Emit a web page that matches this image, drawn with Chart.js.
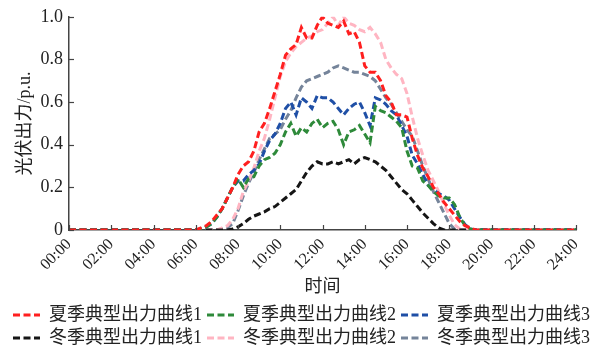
<!DOCTYPE html>
<html lang="zh">
<head>
<meta charset="UTF-8" />
<title>光伏出力曲线</title>
<script src="https://cdn.jsdelivr.net/npm/chart.js"></script>
<style>
  html, body { margin: 0; padding: 0; background: #fff; overflow: hidden; }
  #wrap { width: 603px; height: 347px; overflow: hidden; }
</style>
</head>
<body>
<div id="wrap"><canvas id="pv" width="603" height="357"></canvas></div>
<script>
// time of day in hours (00:00, then 06:00..20:00 every 15 min, then 24:00)
const hours = [0,
  6, 6.25, 6.5, 6.75,
  7, 7.25, 7.5, 7.75,
  8, 8.25, 8.5, 8.75,
  9, 9.25, 9.5, 9.75,
  10, 10.25, 10.5, 10.75,
  11, 11.25, 11.5, 11.75,
  12, 12.25, 12.5, 12.75,
  13, 13.25, 13.5, 13.75,
  14, 14.25, 14.5, 14.75,
  15, 15.25, 15.5, 15.75,
  16, 16.25, 16.5, 16.75,
  17, 17.25, 17.5, 17.75,
  18, 18.25, 18.5, 18.75,
  19, 19.25, 19.5, 19.75,
  20,
  24];

const summer1 = [0,
  0, 0.01, 0.02, 0.04,
  0.07, 0.1, 0.15, 0.2,
  0.26, 0.3, 0.32, 0.37,
  0.46, 0.5, 0.57, 0.65,
  0.73, 0.82, 0.85, 0.87,
  0.95, 0.9, 0.9, 0.96,
  1.0, 0.97, 0.96, 0.95,
  0.98, 0.92, 0.93, 0.88,
  0.77, 0.74, 0.74, 0.7,
  0.63, 0.6, 0.54, 0.54,
  0.53, 0.43, 0.35, 0.29,
  0.25, 0.2, 0.17, 0.13,
  0.1, 0.07, 0.04, 0.02,
  0.01, 0, 0, 0,
  0,
  0];

const summer2 = [0,
  0, 0.005, 0.015, 0.03,
  0.06, 0.1, 0.15, 0.2,
  0.24, 0.2, 0.24, 0.25,
  0.3, 0.33, 0.34, 0.36,
  0.4, 0.46, 0.5, 0.44,
  0.48, 0.46, 0.5, 0.52,
  0.48, 0.5, 0.51, 0.47,
  0.4, 0.46, 0.47, 0.49,
  0.45, 0.41, 0.58, 0.56,
  0.55, 0.53, 0.51, 0.48,
  0.37, 0.3, 0.29, 0.23,
  0.21, 0.18, 0.16, 0.15,
  0.15, 0.12, 0.06, 0.02,
  0.005, 0, 0, 0,
  0,
  0];

const summer3 = [0,
  0, 0.005, 0.015, 0.03,
  0.06, 0.1, 0.15, 0.2,
  0.23, 0.23, 0.26, 0.28,
  0.31, 0.37, 0.42, 0.45,
  0.5, 0.57, 0.6, 0.54,
  0.62, 0.6, 0.57, 0.63,
  0.62, 0.62, 0.6, 0.57,
  0.54, 0.57, 0.59, 0.6,
  0.55, 0.49, 0.62, 0.61,
  0.59, 0.56, 0.54, 0.49,
  0.44, 0.35, 0.31, 0.26,
  0.21, 0.19, 0.17, 0.16,
  0.14, 0.1, 0.06, 0.025,
  0.005, 0, 0, 0,
  0,
  0];

const winter1 = [0,
  0, 0, 0, 0,
  0, 0, 0, 0.005,
  0.015, 0.03, 0.05, 0.065,
  0.075, 0.085, 0.1, 0.11,
  0.13, 0.15, 0.17, 0.19,
  0.23, 0.27, 0.3, 0.32,
  0.31, 0.31, 0.32, 0.31,
  0.32, 0.33, 0.31, 0.33,
  0.34, 0.33, 0.32, 0.3,
  0.28, 0.25, 0.22, 0.19,
  0.17, 0.14, 0.11, 0.08,
  0.055, 0.03, 0.01, 0,
  0, 0, 0, 0,
  0, 0, 0, 0,
  0,
  0];

const winter2 = [0,
  0, 0, 0, 0,
  0, 0.01, 0.02, 0.05,
  0.1, 0.18, 0.23, 0.29,
  0.37, 0.43, 0.52, 0.62,
  0.72, 0.79, 0.83, 0.86,
  0.88, 0.9, 0.91, 0.93,
  0.94, 0.97, 1.0, 0.96,
  1.0, 0.97, 0.96, 0.94,
  0.93, 0.95, 0.92, 0.88,
  0.8, 0.76, 0.73, 0.71,
  0.64, 0.53, 0.43, 0.35,
  0.28, 0.23, 0.18, 0.12,
  0.07, 0.025, 0.005, 0,
  0, 0, 0, 0,
  0,
  0];

const winter3 = [0,
  0, 0, 0, 0,
  0, 0.005, 0.01, 0.03,
  0.09, 0.16, 0.22, 0.27,
  0.33, 0.38, 0.43, 0.45,
  0.47, 0.52, 0.56, 0.62,
  0.67, 0.7, 0.71, 0.72,
  0.73, 0.74, 0.76, 0.77,
  0.76, 0.75, 0.74, 0.74,
  0.73, 0.72, 0.7, 0.66,
  0.62, 0.59, 0.55, 0.51,
  0.47, 0.44, 0.37, 0.3,
  0.24, 0.18, 0.13, 0.08,
  0.03, 0.005, 0, 0,
  0, 0, 0, 0,
  0,
  0];

const seriesNames = ['夏季典型出力曲线1', '夏季典型出力曲线2', '夏季典型出力曲线3',
                     '冬季典型出力曲线1', '冬季典型出力曲线2', '冬季典型出力曲线3'];
const seriesColors = ['#ff1f1f', '#2e8a3a', '#1f4fa6', '#151515', '#ffb5c2', '#75849a'];
const seriesValues = [summer1, summer2, summer3, winter1, winter2, winter3];

const hourTicks = ['00:00', '02:00', '04:00', '06:00', '08:00', '10:00', '12:00',
                   '14:00', '16:00', '18:00', '20:00', '22:00', '24:00'];
const yTicks = ['0', '0.2', '0.4', '0.6', '0.8', '1.0'];

const serif = '"Liberation Serif", "Noto Sans CJK SC", serif';
const axisColor = '#444';
const dash = [7, 3.5];

// tick marks pointing into the plot
const innerTicks = {
  id: 'innerTicks',
  afterDatasetsDraw(chart) {
    const { ctx, scales: { x, y } } = chart;
    ctx.save();
    ctx.strokeStyle = axisColor;
    ctx.lineWidth = 1.2;
    x.ticks.forEach(t => {
      const px = Math.round(x.getPixelForValue(t.value)) + 0.5;
      ctx.beginPath(); ctx.moveTo(px, x.top); ctx.lineTo(px, x.top - 5); ctx.stroke();
    });
    y.ticks.forEach(t => {
      const py = Math.round(y.getPixelForValue(t.value)) + 0.5;
      ctx.beginPath(); ctx.moveTo(y.right, py); ctx.lineTo(y.right + 5, py); ctx.stroke();
    });
    ctx.restore();
  }
};

const datasets = seriesValues.map((vals, i) => ({
  label: seriesNames[i],
  data: hours.map((h, j) => ({ x: h, y: vals[j] })),
  borderColor: seriesColors[i],
  backgroundColor: seriesColors[i],
  borderWidth: 3,
  borderDash: dash,
  pointRadius: 0,
  tension: 0,
  fill: false
}));

new Chart(document.getElementById('pv'), {
  type: 'line',
  data: { datasets },
  plugins: [innerTicks],
  options: {
    responsive: false,
    animation: false,
    layout: { padding: { top: 14, right: 0, left: 0, bottom: 0 } },
    plugins: {
      tooltip: { enabled: false },
      legend: {
        position: 'bottom',
        labels: {
          usePointStyle: true,
          pointStyle: 'line',
          pointStyleWidth: 27,
          boxHeight: 18,
          padding: 5,
          color: '#222',
          font: { family: serif, size: 18 },
          generateLabels(chart) {
            const items = Chart.defaults.plugins.legend.labels.generateLabels(chart);
            items.forEach(it => {
              it.lineDash = chart.data.datasets[it.datasetIndex].borderDash;
              it.lineWidth = 3;
              it.strokeStyle = chart.data.datasets[it.datasetIndex].borderColor;
            });
            return items;
          }
        }
      }
    },
    scales: {
      x: {
        type: 'linear',
        min: 0, max: 24,
        afterFit(s) { s.height = 71; },
        grid: { display: false, drawTicks: false },
        border: { display: true, color: axisColor, width: 1.5 },
        ticks: {
          stepSize: 2, autoSkip: false,
          minRotation: 45, maxRotation: 45,
          padding: 5,
          color: '#222',
          font: { family: serif, size: 16 },
          callback: (v, i) => hourTicks[i]
        },
        title: {
          display: true, text: '时间', color: '#222',
          font: { family: serif, size: 18 },
          padding: { top: 0, bottom: 3 }
        }
      },
      y: {
        min: 0, max: 1,
        afterFit(s) { s.width = 69; },
        grid: { display: false, drawTicks: false },
        border: { display: true, color: axisColor, width: 1.5 },
        ticks: {
          stepSize: 0.2, padding: 6,
          color: '#222',
          font: { family: serif, size: 18 },
          callback: (v, i) => yTicks[i]
        },
        title: {
          display: true, text: '光伏出力/p.u.', color: '#222',
          font: { family: serif, size: 18 },
          padding: { top: 14, bottom: 0 }
        }
      },
      y2: {
        position: 'right',
        display: true,
        afterFit(s) { s.width = 27; },
        grid: { display: false, drawTicks: false },
        border: { display: false },
        ticks: { display: false }
      }
    }
  }
});
</script>
</body>
</html>
